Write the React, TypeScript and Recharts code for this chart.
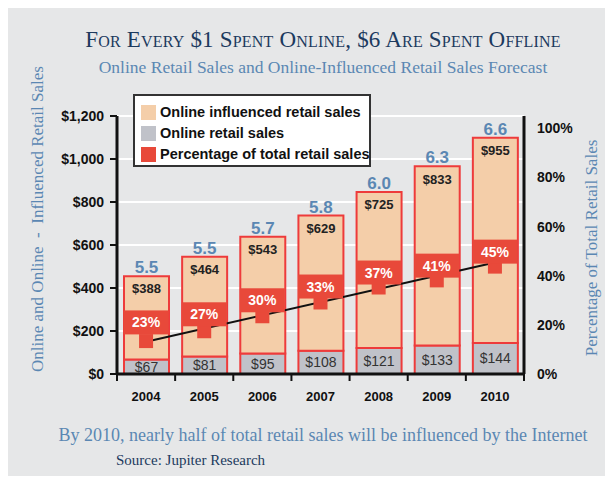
import React from "react";
import {
  Bar,
  CartesianGrid,
  ComposedChart,
  LabelList,
  Line,
  Scatter,
  XAxis,
  YAxis,
} from "recharts";

const YEARS = ["2004", "2005", "2006", "2007", "2008", "2009", "2010"];
const ONLINE = [67, 81, 95, 108, 121, 133, 144];
const INFLUENCED = [388, 464, 543, 629, 725, 833, 955];
const RATIO = ["5.5", "5.5", "5.7", "5.8", "6.0", "6.3", "6.6"];
const SHARE = [23, 27, 30, 33, 37, 41, 45];
// where the red label bands and the little markers sit on the % axis
const BAND_LEVEL = [21, 24.3, 30, 35.6, 41.3, 44.1, 49.8];
const MARK_LEVEL = [13.4, 17.4, 23.5, 29.1, 35.2, 38.1, 43.7];
const TREND = [13.1, null, null, null, null, null, 45.4];

const LEFT_TICKS = [0, 200, 400, 600, 800, 1000, 1200];
const RIGHT_TICKS = [0, 20, 40, 60, 80, 100];

const PEACH = "#f4cea9";
const GREY = "#c0c2c9";
const RED = "#e8493a";
const OUTLINE = "#ee3b3b";
const STEEL = "#5b87b3";
const NAVY = "#1c3a5e";
const SANS = "'Liberation Sans', Arial, sans-serif";
const SERIF = "'Liberation Serif', 'Times New Roman', serif";

const BAR_W = 45;
const HALF_BAND = 407 / 7 / 2;

const data = YEARS.map((year, i) => ({
  year,
  online: ONLINE[i],
  influenced: INFLUENCED[i],
  ratio: RATIO[i],
  share: SHARE[i],
  band: BAND_LEVEL[i],
  mark: MARK_LEVEL[i],
  trend: TREND[i],
}));

const LEGEND = [
  { label: "Online influenced retail sales", color: PEACH },
  { label: "Online retail sales", color: GREY },
  { label: "Percentage of total retail sales", color: RED },
];

function YearTick(props: any) {
  const { x, y, payload, index } = props;
  return (
    <g>
      <line x1={x + HALF_BAND} x2={x + HALF_BAND} y1={y} y2={y + 7} stroke="#111" strokeWidth={2} />
      {index === 0 && (
        <line x1={x - HALF_BAND} x2={x - HALF_BAND} y1={y} y2={y + 7} stroke="#111" strokeWidth={2} />
      )}
      <text x={x} y={y + 27} textAnchor="middle" fontFamily={SANS} fontWeight="bold" fontSize={13} fill="#111">
        {payload.value}
      </text>
    </g>
  );
}

function MarkShape(props: any) {
  const { cx, cy } = props;
  return <rect x={cx - 7} y={cy - 7} width={14} height={14} fill={RED} />;
}

function BandShape(props: any) {
  const { cx, cy, payload } = props;
  return (
    <g>
      <rect x={cx - BAR_W / 2} y={cy - 12} width={BAR_W} height={24} fill={RED} />
      <text x={cx} y={cy + 5} textAnchor="middle" fontFamily={SANS} fontWeight="bold" fontSize={14} fill="#fff">
        {payload.share}%
      </text>
    </g>
  );
}

export default function App() {
  return (
    <div style={{ position: "relative", width: 605, height: 468, background: "#e6e7e8" }}>
      <div
        style={{
          position: "absolute", left: 0, width: 630, top: 19, textAlign: "center",
          fontFamily: SERIF, fontVariant: "small-caps", fontSize: 23, color: NAVY, letterSpacing: 0.2,
        }}
      >
        For Every $1 Spent Online, $6 Are Spent Offline
      </div>
      <div
        style={{
          position: "absolute", left: 0, width: 630, top: 49, textAlign: "center",
          fontFamily: SERIF, fontSize: 17.5, color: STEEL,
        }}
      >
        Online Retail Sales and Online-Influenced Retail Sales Forecast
      </div>

      <ComposedChart
        width={605}
        height={468}
        data={data}
        margin={{ top: 108, right: 29, left: 49, bottom: 72 }}
        barSize={BAR_W}
      >
        <CartesianGrid vertical={false} stroke="#ffffff" strokeWidth={2} yAxisId="left" />
        <XAxis
          dataKey="year"
          tick={<YearTick />}
          tickLine={false}
          tickSize={0}
          tickMargin={0}
          axisLine={{ stroke: "#111", strokeWidth: 3 }}
          height={30}
          interval={0}
        />
        <YAxis
          yAxisId="left"
          domain={[0, 1200]}
          ticks={LEFT_TICKS}
          width={60}
          tickSize={7}
          tickMargin={6}
          tickLine={{ stroke: "#111", strokeWidth: 2 }}
          axisLine={{ stroke: "#111", strokeWidth: 3 }}
          tickFormatter={(v: number) => `$${v.toLocaleString("en-US")}`}
          tick={{ fontFamily: SANS, fontWeight: "bold", fontSize: 14, fill: "#111" }}
        />
        <YAxis
          yAxisId="right"
          orientation="right"
          domain={[0, 105]}
          ticks={RIGHT_TICKS}
          width={60}
          tickSize={6}
          tickMargin={7}
          tickLine={false}
          axisLine={{ stroke: "#111", strokeWidth: 3 }}
          tickFormatter={(v: number) => `${v}%`}
          tick={{ fontFamily: SANS, fontWeight: "bold", fontSize: 14, fill: "#111", textAnchor: "start" }}
        />
        <Bar yAxisId="left" dataKey="online" stackId="s" fill={GREY} stroke={OUTLINE} strokeWidth={2} isAnimationActive={false}>
          <LabelList
            dataKey="online"
            position="center"
            formatter={(v: any) => `$${v}`}
            style={{ fontFamily: SANS, fontSize: 14, fill: "#333" }}
          />
        </Bar>
        <Bar yAxisId="left" dataKey="influenced" stackId="s" fill={PEACH} stroke={OUTLINE} strokeWidth={2} isAnimationActive={false}>
          <LabelList
            dataKey="influenced"
            position="insideTop"
            offset={8}
            formatter={(v: any) => `$${v}`}
            style={{ fontFamily: SANS, fontWeight: "bold", fontSize: 13, fill: "#222" }}
          />
          <LabelList
            dataKey="ratio"
            position="top"
            offset={3}
            style={{ fontFamily: SANS, fontWeight: "bold", fontSize: 17, fill: STEEL }}
          />
        </Bar>
        <Scatter yAxisId="right" dataKey="mark" shape={<MarkShape />} isAnimationActive={false} />
        <Scatter yAxisId="right" dataKey="band" shape={<BandShape />} isAnimationActive={false} />
        <Line
          yAxisId="right"
          dataKey="trend"
          connectNulls
          dot={false}
          stroke="#111"
          strokeWidth={2}
          isAnimationActive={false}
        />
      </ComposedChart>

      <div
        style={{
          position: "absolute", left: 125, top: 86, width: 234, height: 69,
          background: "#fff", border: "2px solid #333", fontFamily: SANS,
        }}
      >
        {LEGEND.map((item, i) => (
          <div key={i} style={{ display: "flex", alignItems: "center", height: 20, marginTop: i === 0 ? 6 : 1, paddingLeft: 6 }}>
            <span style={{ width: 15, height: 15, background: item.color, marginRight: 4, flex: "none" }} />
            <span style={{ fontWeight: "bold", fontSize: 14.5, color: "#111", whiteSpace: "nowrap" }}>{item.label}</span>
          </div>
        ))}
      </div>

      <div
        style={{
          position: "absolute", left: 30, top: 211, width: 0, height: 0,
        }}
      >
        <div
          style={{
            position: "absolute", transform: "translate(-50%, -50%) rotate(-90deg)", whiteSpace: "nowrap",
            fontFamily: SERIF, fontSize: 17, color: STEEL,
          }}
        >
          Online and Online&nbsp; - &nbsp;Influenced Retail Sales
        </div>
      </div>
      <div style={{ position: "absolute", left: 584, top: 240, width: 0, height: 0 }}>
        <div
          style={{
            position: "absolute", transform: "translate(-50%, -50%) rotate(-90deg)", whiteSpace: "nowrap",
            fontFamily: SERIF, fontSize: 17, color: STEEL,
          }}
        >
          Percentage of Total Retail Sales
        </div>
      </div>

      <div
        style={{
          position: "absolute", left: 0, width: 630, top: 417, textAlign: "center",
          fontFamily: SERIF, fontSize: 18, color: STEEL,
        }}
      >
        By 2010, nearly half of total retail sales will be influenced by the Internet
      </div>
      <div
        style={{
          position: "absolute", left: 108, top: 444, fontFamily: SERIF, fontSize: 15, color: NAVY,
        }}
      >
        Source: Jupiter Research
      </div>
    </div>
  );
}
